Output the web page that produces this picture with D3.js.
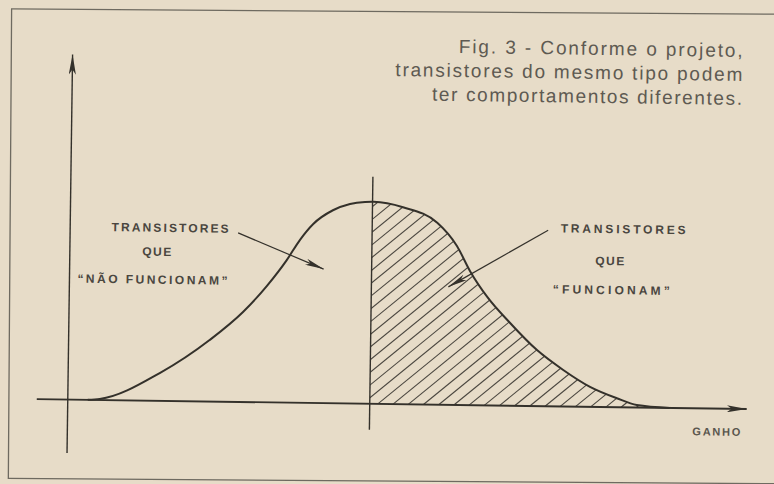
<!DOCTYPE html>
<html><head><meta charset="utf-8">
<script src="https://cdn.jsdelivr.net/npm/d3@7"></script>
<style>html,body{margin:0;padding:0;background:#e7dcc8;overflow:hidden}</style>
</head><body>
<svg id="c" width="774" height="484"></svg>
<script>
// ---- data ----
const gain  = [2.0, 3.2, 9.2, 14.1, 17.4, 19.8, 21.7, 23.0, 24.3, 26.25, 27.95, 29.45, 30.3, 33.25, 36.7, 38.7, 40.05, 41.8, 44.1, 46.85, 49.5, 52.2, 54.9, 56.9, 60.2];
const count = [0, 0.1, 2.8, 6.15, 9.0, 11.7, 14.25, 16.3, 17.9, 19.3, 19.95, 20.17, 20.2, 19.7, 18.2, 15.9, 13.4, 10.85, 8.3, 5.6, 3.65, 2.0, 0.9, 0.25, 0];
const threshold = 30.2;                 // divider between the two groups
const xAxisExtent = [-3.1, 67.9];
const yAxisExtent = [-5.35, 34.5];
const dividerExtent = [-2.6, 22.7];
const captionLines = ["Fig. 3 - Conforme o projeto,", "transistores do mesmo tipo podem", "ter comportamentos diferentes."];
const leftLabel  = ["TRANSISTORES", "QUE", "\u201cNÃO FUNCIONAM\u201d"];
const rightLabel = ["TRANSISTORES", "QUE", "\u201cFUNCIONAM\u201d"];
const leftLabelPos  = [[10.0, 17.3], [8.7, 14.9], [8.3, 12.1]];
const rightLabelPos = [[55.3, 17.8], [54.0, 14.6], [54.2, 11.7]];
const leftArrow  = [[16.8, 16.9], [25.4, 13.4]];
const rightArrow = [[47.8, 17.6], [37.9, 11.8]];
const axisTitle = "GANHO";
const axisTitlePos = [64.9, -2.3];

// ---- layout ----
const W = 774, H = 484;
const ink = "#34312b", grey = "#5e5a52";
const x = d3.scaleLinear().domain([0, 68]).range([70, 750]);
const y = d3.scaleLinear().domain([0, 20.2]).range([404, 202]);
const pts = gain.map((g, i) => [g, count[i]]);

const svg = d3.select("#c");
svg.append("rect").attr("width", W).attr("height", H).attr("fill", "#e7dcc8");
const defs = svg.append("defs");
function marker(id, len, hw) {
  defs.append("marker").attr("id", id).attr("markerUnits", "userSpaceOnUse")
    .attr("viewBox", `0 ${-hw} ${len} ${2*hw}`).attr("refX", len).attr("refY", 0)
    .attr("markerWidth", len).attr("markerHeight", 2*hw).attr("orient", "auto")
    .append("path").attr("d", `M0,${-hw}L${len},0L0,${hw}L${len*0.25},0Z`).attr("fill", ink);
}
marker("axArr", 20, 3.6);
marker("anArr", 19, 3.2);

// frame (scanned slightly skewed)
svg.append("g").attr("transform", "rotate(0.4 387 242)")
  .append("rect").attr("x", 10).attr("y", 11.5).attr("width", 790).attr("height", 469.5)
  .attr("fill", "none").attr("stroke", "#6e6a60").attr("stroke-width", 1.3);

const g = svg.append("g").attr("transform", "rotate(0.8 387 242)");

// hatched region (right of threshold, under the curve)
const area = d3.area().x(d => x(d[0])).y0(y(0)).y1(d => y(d[1])).curve(d3.curveMonotoneX);
const line = d3.line().x(d => x(d[0])).y(d => y(d[1])).curve(d3.curveMonotoneX);
defs.append("clipPath").attr("id", "underCurve").append("path").attr("d", area(pts));
defs.append("clipPath").attr("id", "rightOfCut").append("rect")
  .attr("x", x(threshold)).attr("y", 0).attr("width", W).attr("height", y(0));
const hatch = g.append("g").attr("clip-path", "url(#rightOfCut)")
  .append("g").attr("clip-path", "url(#underCurve)");
const ang = 40 * Math.PI / 180, step = 15.2, hgt = y(0) - y(21);
const x0 = x(threshold) - hgt / Math.tan(ang);
for (let k = 0; x0 + k * step < x(62); k++) {
  const bx = x0 + k * step;
  hatch.append("line").attr("x1", bx).attr("y1", y(0)).attr("x2", bx + hgt / Math.tan(ang)).attr("y2", y(0) - hgt)
    .attr("stroke", "#4a463f").attr("stroke-width", 1.1);
}

// axes
g.append("line").attr("x1", x(xAxisExtent[0])).attr("x2", x(xAxisExtent[1])).attr("y1", y(0)).attr("y2", y(0))
  .attr("stroke", ink).attr("stroke-width", 1.9).attr("marker-end", "url(#axArr)");
g.append("line").attr("x1", x(0)).attr("x2", x(0)).attr("y1", y(yAxisExtent[0])).attr("y2", y(yAxisExtent[1]))
  .attr("stroke", ink).attr("stroke-width", 1.4).attr("marker-end", "url(#axArr)");
// divider
g.append("line").attr("x1", x(threshold)).attr("x2", x(threshold)).attr("y1", y(dividerExtent[0])).attr("y2", y(dividerExtent[1]))
  .attr("stroke", ink).attr("stroke-width", 1.4);

// curve
g.append("path").attr("d", line(pts)).attr("fill", "none").attr("stroke", ink).attr("stroke-width", 2);

// annotation arrows
[leftArrow, rightArrow].forEach(a => {
  g.append("line").attr("x1", x(a[0][0])).attr("y1", y(a[0][1])).attr("x2", x(a[1][0])).attr("y2", y(a[1][1]))
    .attr("stroke", ink).attr("stroke-width", 1.2).attr("marker-end", "url(#anArr)");
});

// labels
const leftW = [117, 29, 150], rightW = [125, 29, 117];
function labels(txt, pos, widths) {
  txt.forEach((t, i) => {
    g.append("text").attr("x", x(pos[i][0])).attr("y", y(pos[i][1]))
      .attr("text-anchor", "middle").attr("dominant-baseline", "central")
      .attr("font-family", "Liberation Sans, Arial, sans-serif").attr("font-size", 12).attr("font-weight", "bold")
      .attr("fill", "#4a463f").attr("textLength", widths[i]).attr("lengthAdjust", "spacing")
      .text(t);
  });
}
labels(leftLabel, leftLabelPos, leftW);
labels(rightLabel, rightLabelPos, rightW);
g.append("text").attr("x", x(axisTitlePos[0])).attr("y", y(axisTitlePos[1]))
  .attr("text-anchor", "middle").attr("dominant-baseline", "central")
  .attr("font-family", "Liberation Sans, Arial, sans-serif").attr("font-size", 11).attr("font-weight", "bold")
  .attr("fill", "#5a564e").attr("textLength", 48).attr("lengthAdjust", "spacing").text(axisTitle);

// caption
const capW = [284, 347, 310];
captionLines.forEach((t, i) => {
  g.append("text").attr("x", 740).attr("y", 52 + i * 24)
    .attr("text-anchor", "end")
    .attr("font-family", "Liberation Sans, Arial, sans-serif").attr("font-size", 19)
    .attr("fill", grey).attr("textLength", capW[i]).attr("lengthAdjust", "spacing")
    .text(t);
});
</script>
</body></html>
